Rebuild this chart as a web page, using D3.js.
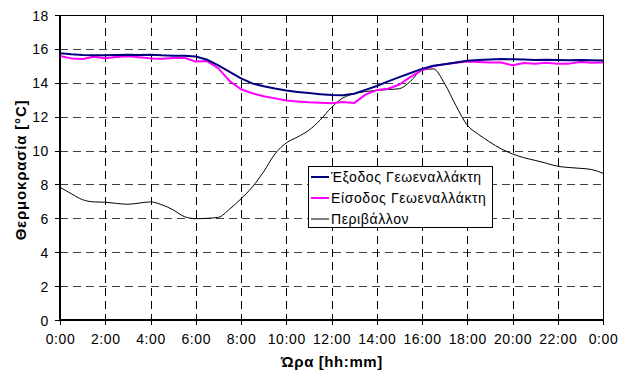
<!DOCTYPE html>
<html><head><meta charset="utf-8">
<script src="https://cdn.jsdelivr.net/npm/d3@7"></script>
<style>body{margin:0;background:#fff}svg{display:block}text{font-family:"Liberation Sans",Arial,sans-serif;fill:#000}</style>
</head><body><svg id="c" width="624" height="373"></svg>
<script>
// time of day in hours (every 30 min)
const hours = d3.range(0, 24.01, 0.5);
const exitTemp = [15.74,15.68,15.64,15.62,15.62,15.64,15.66,15.64,15.66,15.62,15.60,15.60,15.55,15.36,15.03,14.65,14.26,13.96,13.80,13.66,13.54,13.46,13.39,13.33,13.28,13.27,13.35,13.58,13.81,14.08,14.33,14.58,14.82,15.00,15.10,15.20,15.30,15.34,15.38,15.40,15.39,15.37,15.34,15.36,15.34,15.33,15.34,15.33,15.31];
const inletTemp = [15.58,15.44,15.40,15.54,15.45,15.52,15.57,15.50,15.44,15.42,15.46,15.48,15.25,15.28,14.85,14.10,13.62,13.38,13.20,13.08,12.96,12.90,12.85,12.82,12.79,12.86,12.80,13.30,13.57,13.65,13.90,14.35,14.75,14.98,15.10,15.18,15.25,15.22,15.19,15.20,15.03,15.17,15.12,15.18,15.12,15.13,15.22,15.18,15.19];
const ambientTemp = [7.83,7.45,7.10,6.97,6.95,6.88,6.83,6.90,6.97,6.80,6.50,6.10,5.98,6.00,6.06,6.55,7.15,7.85,8.75,9.80,10.45,10.80,11.20,11.80,12.55,13.10,13.35,13.48,13.55,13.60,13.65,14.10,14.75,14.82,13.95,12.65,11.50,10.95,10.50,10.10,9.80,9.58,9.42,9.25,9.07,9.00,8.95,8.88,8.66];
const seriesNames = ["Έξοδος Γεωεναλλάκτη","Είσοδος Γεωεναλλάκτη","Περιβάλλον"];
const seriesColors = ["#000080","#FF00FF","#000000"];
const xTicks = d3.range(0, 25, 2);
const xTickLabels = xTicks.map(h => (h % 24) + ":00");
const yTicks = d3.range(0, 19, 2);

const svg = d3.select("#c");
const L = 60, R = 603, T = 15, B = 320;
const x = d3.scaleLinear().domain([0, 24]).range([L, R]);
const y = d3.scaleLinear().domain([0, 18]).range([B, T]);

// grid
const g = svg.append("g").attr("shape-rendering","crispEdges");
g.selectAll(".hg").data(yTicks.filter(v => v > 0 && v < 18)).join("line")
  .attr("x1", L).attr("x2", R).attr("y1", d => Math.round(y(d))+0.5).attr("y2", d => Math.round(y(d))+0.5)
  .attr("stroke", "#404040").attr("stroke-dasharray", "8,5");
g.selectAll(".vg").data(xTicks.filter(v => v > 0 && v < 24)).join("line")
  .attr("y1", T).attr("y2", B).attr("x1", d => Math.round(x(d))+0.5).attr("x2", d => Math.round(x(d))+0.5)
  .attr("stroke", "#000").attr("stroke-dasharray", "8,5");
// frame top/right
g.append("line").attr("x1", L).attr("x2", R+0.5).attr("y1", T+0.5).attr("y2", T+0.5).attr("stroke", "#000");
g.append("line").attr("x1", R+0.5).attr("x2", R+0.5).attr("y1", T).attr("y2", B).attr("stroke", "#000");

// series
const data = [exitTemp, inletTemp, ambientTemp];
const widths = [2, 2, 1];
const order = [2, 1, 0];
order.forEach(i => {
  const line = d3.line().x((d, k) => x(hours[k])).y(d => y(d))
    .curve(i === 2 ? d3.curveMonotoneX : d3.curveLinear);
  svg.append("path").datum(data[i]).attr("fill", "none")
    .attr("stroke", seriesColors[i]).attr("stroke-width", widths[i])
    .attr("stroke-linejoin","round").attr("d", line);
});

// axes
const yAxis = d3.axisLeft(y).tickValues(yTicks).tickSize(5).tickPadding(6);
const ya = svg.append("g").attr("transform", `translate(${L},0)`).call(yAxis);
const xAxis = d3.axisBottom(x).tickValues(xTicks).tickFormat((d, i) => xTickLabels[i]).tickSize(5).tickPadding(9);
const xa = svg.append("g").attr("transform", `translate(0,${B})`).call(xAxis);
[ya, xa].forEach(a => {
  a.selectAll("text").style("font-size", "14px").style("letter-spacing", "0.6px")
    .style("font-family", '"Liberation Sans",Arial,sans-serif').attr("fill","#000");
  a.selectAll(".tick line").attr("stroke", "#000").attr("shape-rendering","crispEdges");
  a.select(".domain").remove();
});
ya.selectAll("text").attr("dy", "0.36em");
svg.append("line").attr("x1", L).attr("x2", L).attr("y1", T).attr("y2", B+1).attr("stroke", "#000").attr("stroke-width", 2);
svg.append("line").attr("x1", L-1).attr("x2", R+1).attr("y1", B).attr("y2", B).attr("stroke", "#000").attr("stroke-width", 2);

// axis titles
svg.append("text").attr("transform", "translate(26,170) rotate(-90)").attr("text-anchor","middle")
  .style("font-size","15px").style("letter-spacing","0.8px").style("font-weight","bold").text("Θερμοκρασία [°C]");
svg.append("text").attr("x", 332).attr("y", 367).attr("text-anchor","middle")
  .style("font-size","15px").style("letter-spacing","0.6px").style("font-weight","bold").text("Ώρα [hh:mm]");

// legend
const lg = svg.append("g");
lg.append("rect").attr("x", 308.5).attr("y", 166.5).attr("width", 184).attr("height", 61)
  .attr("fill", "#fff").attr("stroke", "#000").attr("shape-rendering","crispEdges");
seriesNames.forEach((n, i) => {
  const yy = 177 + i * 21;
  lg.append("line").attr("x1", 311).attr("x2", 329).attr("y1", yy).attr("y2", yy)
    .attr("stroke", seriesColors[i]).attr("stroke-width", widths[i]);
  lg.append("text").attr("x", 331).attr("y", yy).attr("dy", "0.36em")
    .style("font-size", "14px").style("letter-spacing", "0.6px").text(n);
});
</script></body></html>
